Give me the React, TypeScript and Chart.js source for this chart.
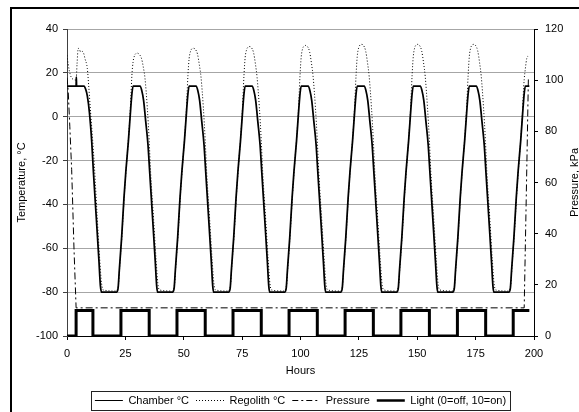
import React, { useEffect, useRef } from 'react';
import { Chart, registerables } from 'chart.js';

Chart.register(...registerables);

const FONT = "Arial, 'Liberation Sans', sans-serif";

// ---- Data ----
const chamberHours = [
  0, 3.9, 4.0, 4.1, 7.3, 8.0, 8.7, 9.6, 10.6, 11.3, 12.6, 13.7, 14.3, 14.8,
  21.3, 21.9, 22.4, 23.4, 24.4, 25.2, 26.3, 27.3, 27.8, 28.3, 31.3, 32.0, 32.8, 33.7, 34.7, 35.4, 36.7, 37.8, 38.4, 38.8,
  45.3, 45.9, 46.4, 47.4, 48.4, 49.2, 50.3, 51.3, 51.8, 52.3, 55.3, 56.0, 56.8, 57.7, 58.7, 59.4, 60.7, 61.8, 62.4, 62.8,
  69.3, 69.9, 70.4, 71.4, 72.4, 73.2, 74.3, 75.3, 75.8, 76.3, 79.3, 80.0, 80.8, 81.7, 82.7, 83.4, 84.7, 85.8, 86.4, 86.8,
  93.3, 93.9, 94.4, 95.4, 96.4, 97.2, 98.3, 99.3, 99.8, 100.3, 103.3, 104.0, 104.8, 105.7, 106.7, 107.4, 108.7, 109.8, 110.4, 110.8,
  117.3, 117.9, 118.4, 119.4, 120.4, 121.2, 122.3, 123.3, 123.8, 124.3, 127.3, 128.0, 128.8, 129.7, 130.7, 131.4, 132.7, 133.8, 134.4, 134.8,
  141.3, 141.9, 142.4, 143.4, 144.4, 145.2, 146.3, 147.3, 147.8, 148.3, 151.3, 152.0, 152.8, 153.7, 154.7, 155.4, 156.7, 157.8, 158.4, 158.8,
  165.3, 165.9, 166.4, 167.4, 168.4, 169.2, 170.3, 171.3, 171.8, 172.3, 175.3, 176.0, 176.8, 177.7, 178.7, 179.4, 180.7, 181.8, 182.4, 182.8,
  189.3, 189.9, 190.4, 191.4, 192.4, 193.2, 194.3, 195.3, 195.8, 196.3, 198.0,
];
const chamberTemp = [
  14, 14, 18, 14, 14, 12.5, 9.5, 2, -11.5, -25, -47, -66, -77, -80,
  -80, -78, -70, -55, -37, -25, -11, 4, 10.5, 14, 14, 12, 7.5, -2, -13, -25, -47, -66, -77, -80,
  -80, -78, -70, -55, -37, -25, -11, 4, 10.5, 14, 14, 12, 7.5, -2, -13, -25, -47, -66, -77, -80,
  -80, -78, -70, -55, -37, -25, -11, 4, 10.5, 14, 14, 12, 7.5, -2, -13, -25, -47, -66, -77, -80,
  -80, -78, -70, -55, -37, -25, -11, 4, 10.5, 14, 14, 12, 7.5, -2, -13, -25, -47, -66, -77, -80,
  -80, -78, -70, -55, -37, -25, -11, 4, 10.5, 14, 14, 12, 7.5, -2, -13, -25, -47, -66, -77, -80,
  -80, -78, -70, -55, -37, -25, -11, 4, 10.5, 14, 14, 12, 7.5, -2, -13, -25, -47, -66, -77, -80,
  -80, -78, -70, -55, -37, -25, -11, 4, 10.5, 14, 14, 12, 7.5, -2, -13, -25, -47, -66, -77, -80,
  -80, -78, -70, -55, -37, -25, -11, 4, 10.5, 14, 14,
];

const regolithHours = [
  0, 0.5, 1.0, 1.8, 2.8, 3.9, 4.3, 4.8, 5.3, 5.8, 6.5, 7.1, 7.7, 8.7, 9.3, 10.1, 10.6, 11.2, 11.7, 12.9, 14.0, 14.8, 15.5, 21.3,
  21.5, 22.1, 22.6, 23.6, 24.6, 25.4, 26.4, 27.0, 27.4, 27.8, 28.3, 28.9, 29.5, 30.1, 30.9, 31.9, 32.7, 33.4, 34.4, 35.2, 35.8, 37.1, 38.2, 38.9, 39.6, 45.3,
  45.5, 46.1, 46.6, 47.6, 48.6, 49.4, 50.4, 51.0, 51.4, 51.8, 52.3, 52.9, 53.5, 54.1, 54.9, 55.9, 56.7, 57.4, 58.4, 59.2, 59.8, 61.1, 62.2, 62.9, 63.6, 69.3,
  69.5, 70.1, 70.6, 71.6, 72.6, 73.4, 74.4, 75.0, 75.4, 75.8, 76.3, 76.9, 77.5, 78.1, 78.9, 79.9, 80.7, 81.4, 82.4, 83.2, 83.8, 85.1, 86.2, 86.9, 87.6, 93.3,
  93.5, 94.1, 94.6, 95.6, 96.6, 97.4, 98.4, 99.0, 99.4, 99.8, 100.3, 100.9, 101.5, 102.1, 102.9, 103.9, 104.7, 105.4, 106.4, 107.2, 107.8, 109.1, 110.2, 110.9, 111.6, 117.3,
  117.5, 118.1, 118.6, 119.6, 120.6, 121.4, 122.4, 123.0, 123.4, 123.8, 124.3, 124.9, 125.5, 126.1, 126.9, 127.9, 128.7, 129.4, 130.4, 131.2, 131.8, 133.1, 134.2, 134.9, 135.6, 141.3,
  141.5, 142.1, 142.6, 143.6, 144.6, 145.4, 146.4, 147.0, 147.4, 147.8, 148.3, 148.9, 149.5, 150.1, 150.9, 151.9, 152.7, 153.4, 154.4, 155.2, 155.8, 157.1, 158.2, 158.9, 159.6, 165.3,
  165.5, 166.1, 166.6, 167.6, 168.6, 169.4, 170.4, 171.0, 171.4, 171.8, 172.3, 172.9, 173.5, 174.1, 174.9, 175.9, 176.7, 177.4, 178.4, 179.2, 179.8, 181.1, 182.2, 182.9, 183.6, 189.3,
  189.5, 190.1, 190.6, 191.6, 192.6, 193.4, 194.4, 195.0, 195.4, 195.8, 196.3, 196.9, 197.3, 197.5,
];
const regolithTemp = [
  28, 24, 21, 18, 17, 16.7, 24, 31.2, 30.8, 29.6, 29.8, 29, 26.5, 22, 14, 2, -5, -14, -22, -45, -65, -76, -79, -79.5,
  -79, -76, -68, -53, -35, -23, -9, 1, 10, 19, 25, 27.8, 28.8, 29, 28.5, 26.6, 22.5, 17.5, 4, -11, -25, -47, -66, -76, -79, -79.5,
  -79, -76, -68, -53, -35, -23, -9, 1, 10, 19, 26.5, 29.8, 31, 31.2, 30.8, 28.5, 23.5, 18, 4, -11, -25, -47, -66, -76, -79, -79.5,
  -79, -76, -68, -53, -35, -23, -9, 1, 10, 19, 27, 30.5, 31.7, 32, 31.6, 29.2, 24, 18, 4, -11, -25, -47, -66, -76, -79, -79.5,
  -79, -76, -68, -53, -35, -23, -9, 1, 10, 19, 27.2, 31, 32.2, 32.5, 32.1, 29.6, 24.3, 18.3, 4, -11, -25, -47, -66, -76, -79, -79.5,
  -79, -76, -68, -53, -35, -23, -9, 1, 10, 19, 27.5, 31.4, 32.7, 33, 32.6, 30, 24.6, 18.5, 4, -11, -25, -47, -66, -76, -79, -79.5,
  -79, -76, -68, -53, -35, -23, -9, 1, 10, 19, 27.5, 31.4, 32.7, 33, 32.6, 30, 24.6, 18.5, 4, -11, -25, -47, -66, -76, -79, -79.5,
  -79, -76, -68, -53, -35, -23, -9, 1, 10, 19, 27.5, 31.4, 32.7, 33, 32.6, 30, 24.6, 18.5, 4, -11, -25, -47, -66, -76, -79, -79.5,
  -79, -76, -68, -53, -35, -23, -9, 1, 10, 17, 22, 26.6, 27.6, 27,
];

const pressureHours = [0, 0.5, 1.2, 2.0, 3.0, 3.9, 195.8, 196.9, 197.6];
const pressureKpa = [101, 96, 82, 65, 34, 11, 11, 65, 101];

const lightHours = [0, 3.9, 11.1, 23.1, 35.2, 47.1, 59.2, 71.1, 83.2, 95.1, 107.2, 119.1, 131.2, 143.0, 155.2, 167.2, 179.3, 191.1, 198.0];
const lightValue = [0, 10, 0, 10, 0, 10, 0, 10, 0, 10, 0, 10, 0, 10, 0, 10, 0, 10, 10];

const seriesLabels = ['Chamber °C', 'Regolith °C', 'Pressure', 'Light (0=off, 10=on)'];

const xMin = 0, xMax = 200, xStep = 25;
const tempMin = -100, tempMax = 40, tempStep = 20;
const presMin = 0, presMax = 120, presStep = 20;

const xTitle = 'Hours';
const leftTitle = 'Temperature, °C';
const rightTitle = 'Pressure, kPa';

const toPoints = (xs: number[], ys: number[]) => xs.map((x, i) => ({ x, y: ys[i] }));

const decorPlugin = {
  id: 'decor',
  afterDraw(chart: any) {
    const ctx = chart.ctx;
    const area = chart.chartArea;
    ctx.save();
    // outer frame (left and top edges visible)
    ctx.fillStyle = '#000';
    ctx.fillRect(10, 7, chart.width, 2);
    ctx.fillRect(10, 7, 2, chart.height);
    // right axis title, reading bottom-to-top
    ctx.font = `11px ${FONT}`;
    ctx.fillStyle = '#000';
    ctx.textAlign = 'center';
    ctx.textBaseline = 'middle';
    ctx.translate(574.5, (area.top + area.bottom) / 2);
    ctx.rotate(-Math.PI / 2);
    ctx.fillText(rightTitle, 0, 0);
    ctx.restore();
    // legend frame
    const lg = chart.legend;
    if (lg && lg.legendHitBoxes && lg.legendHitBoxes.length) {
      let l = Infinity, r = -Infinity, t = Infinity, b = -Infinity;
      for (const h of lg.legendHitBoxes) {
        l = Math.min(l, h.left);
        r = Math.max(r, h.left + h.width);
        t = Math.min(t, h.top);
        b = Math.max(b, h.top + h.height);
      }
      ctx.save();
      ctx.strokeStyle = '#222';
      ctx.lineWidth = 1;
      ctx.strokeRect(Math.round(l - 4) + 0.5, Math.round(t - 4) + 0.5, Math.round(r - l + 8), Math.round(b - t + 8));
      ctx.restore();
    }
  },
};

export default function App() {
  const ref = useRef<HTMLCanvasElement>(null);

  useEffect(() => {
    const font = { family: FONT, size: 11 };
    const chart = new Chart(ref.current as HTMLCanvasElement, {
      type: 'line',
      data: {
        datasets: [
          {
            label: seriesLabels[0],
            data: toPoints(chamberHours, chamberTemp),
            yAxisID: 'y',
            borderColor: '#000',
            borderWidth: 1.75,
            pointRadius: 0,
            cubicInterpolationMode: 'monotone',
            legendWidth: 1,
            legendDash: [],
          } as any,
          {
            label: seriesLabels[1],
            data: toPoints(regolithHours, regolithTemp),
            yAxisID: 'y',
            borderColor: '#000',
            borderWidth: 1,
            borderDash: [1, 2],
            pointRadius: 0,
            cubicInterpolationMode: 'monotone',
            legendWidth: 1,
            legendDash: [1, 2],
          } as any,
          {
            label: seriesLabels[2],
            data: toPoints(pressureHours, pressureKpa),
            yAxisID: 'y2',
            borderColor: '#000',
            borderWidth: 1,
            borderDash: [7, 3, 2, 3],
            pointRadius: 0,
            legendWidth: 1,
            legendDash: [6, 3, 2, 3],
          } as any,
          {
            label: seriesLabels[3],
            data: toPoints(lightHours, lightValue),
            yAxisID: 'y2',
            borderColor: '#000',
            borderWidth: 3,
            stepped: 'before',
            pointRadius: 0,
            legendWidth: 2.5,
            legendDash: [],
          } as any,
        ],
      },
      options: {
        animation: false,
        responsive: false,
        devicePixelRatio: 1,
        events: [],
        layout: { padding: { left: 0, right: 0, top: 29, bottom: -4 } },
        plugins: {
          legend: {
            position: 'bottom',
            fullSize: false,
            labels: {
              usePointStyle: true,
              pointStyleWidth: 28,
              boxHeight: 11,
              padding: 7,
              color: '#000',
              font,
              generateLabels: (c: any) =>
                c.data.datasets.map((ds: any, i: number) => ({
                  text: ds.label,
                  fillStyle: 'rgba(0,0,0,0)',
                  strokeStyle: '#000',
                  lineWidth: ds.legendWidth,
                  lineDash: ds.legendDash,
                  pointStyle: 'line',
                  hidden: false,
                  datasetIndex: i,
                  fontColor: '#000',
                })),
            },
          },
          tooltip: { enabled: false },
        },
        scales: {
          x: {
            type: 'linear',
            min: xMin,
            max: xMax,
            ticks: { stepSize: xStep, color: '#000', font, padding: 7, maxRotation: 0 },
            grid: { drawOnChartArea: false, drawTicks: true, tickLength: 4, tickColor: '#000' },
            border: { color: '#000' },
            title: { display: true, text: xTitle, color: '#000', font, padding: { top: 0, bottom: 10 } },
            afterFit: (s: any) => { s.height = 52; },
          },
          y: {
            type: 'linear',
            position: 'left',
            min: tempMin,
            max: tempMax,
            ticks: { stepSize: tempStep, color: '#000', font, padding: 5 },
            grid: { color: '#a6a6a6', tickColor: '#404040', tickLength: 4 },
            border: { color: '#404040' },
            title: { display: true, text: leftTitle, color: '#000', font, padding: { top: 15, bottom: 0 } },
            afterFit: (s: any) => { s.width = 67; },
          },
          y2: {
            type: 'linear',
            position: 'right',
            min: presMin,
            max: presMax,
            ticks: { stepSize: presStep, color: '#000', font, padding: 7 },
            grid: { drawOnChartArea: false, tickLength: 4, tickColor: '#000' },
            border: { color: '#000' },
            afterFit: (s: any) => { s.width = 45; },
          },
        },
      } as any,
      plugins: [decorPlugin],
    });
    return () => chart.destroy();
  }, []);

  return (
    <div style={{ position: 'absolute', left: 0, top: 0, width: 579, height: 412, overflow: 'hidden', background: '#fff' }}>
      <canvas ref={ref} width={579} height={412} style={{ display: 'block' }} />
    </div>
  );
}
